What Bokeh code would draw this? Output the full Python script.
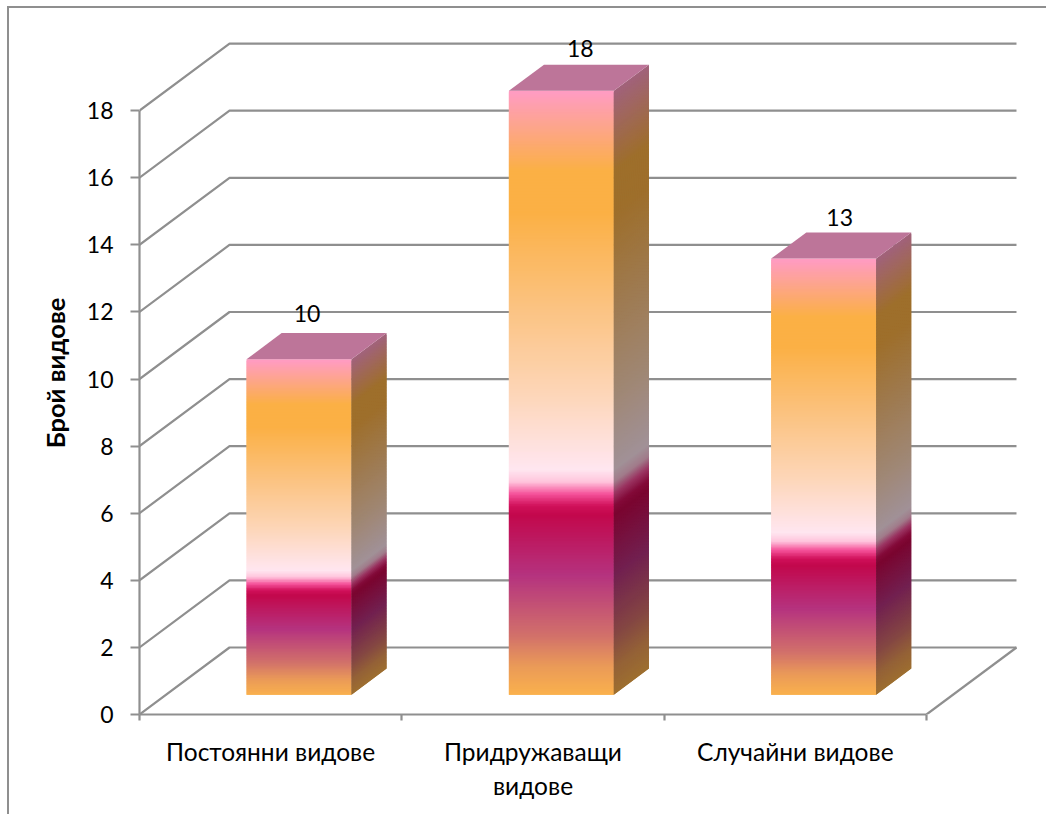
from bokeh.plotting import figure
from bokeh.models import FixedTicker, Range1d, LinearAxis
from bokeh.embed import file_html
from bokeh.resources import INLINE
from bokeh.core.properties import value

# --- data ---
categories = ["Постоянни видове", "Придружаващи\nвидове", "Случайни видове"]
counts = [10, 18, 13]
count_labels = ["10", "18", "13"]
y_ticks = [0, 2, 4, 6, 8, 10, 12, 14, 16, 18]
y_title = "Брой видове"

# --- style / projection ---
FONT = "Lato"
LINE = "#8f8f8f"
W, H = 1046, 814
LEFT, BOTTOM, TOP = 139, 100, 31
PX_X, PX_Y = 262.33, 33.55
DX, DY = 90 / PX_X, 67 / PX_Y
D0X, D0Y, DEPTH = 0.315, 0.295, 0.39
BAR_W = 0.40
TOP_FACE = "#bd7599"
STOPS = [(0.00, "#fbb24c"), (0.05, "#ea9a58"), (0.10, "#d2716a"), (0.20, "#b5337f"), (0.30, "#c2084c"),
         (0.315, "#d0105a"), (0.335, "#f5529a"), (0.355, "#ffc4dc"), (0.375, "#ffe6f0"),
         (0.50, "#fdd6b8"), (0.65, "#fbc27f"), (0.80, "#fbb045"), (0.87, "#fbb045"), (1.00, "#ff9cc2")]


def rgb(h):
    return [int(h[i:i + 2], 16) for i in (1, 3, 5)]


def shade(t, k=1.0):
    for (t0, c0), (t1, c1) in zip(STOPS, STOPS[1:]):
        if t <= t1:
            f = (t - t0) / (t1 - t0)
            a, b = rgb(c0), rgb(c1)
            return "#%02x%02x%02x" % tuple(int(round((a[i] + (b[i] - a[i]) * f) * k)) for i in range(3))
    return STOPS[-1][1]


p = figure(width=W, height=H, output_backend="svg", toolbar_location=None,
           x_axis_location=None, y_axis_location=None,
           x_range=Range1d(0, (W - LEFT) / PX_X),
           y_range=Range1d(0, (H - BOTTOM - TOP) / PX_Y),
           min_border_left=LEFT, min_border_right=0, min_border_top=TOP, min_border_bottom=BOTTOM,
           outline_line_color=None, background_fill_color=None, border_fill_color=None)
# the chart-area border sits outside the frame, so it is painted behind the transparent canvas
p.styles = {"background": f"linear-gradient({LINE},{LINE}) 7px 6px / 100% 2px no-repeat, "
                          f"linear-gradient({LINE},{LINE}) 7px 6px / 2px 100% no-repeat, white"}
p.grid.visible = False

# axes
ya = LinearAxis(ticker=FixedTicker(ticks=y_ticks), bounds=(0, y_ticks[-1]), axis_label=y_title)
ya.axis_line_color = LINE; ya.axis_line_width = 2.2
ya.major_tick_line_color = LINE; ya.major_tick_line_width = 2.2
ya.major_tick_out = 9; ya.major_tick_in = 0
ya.minor_tick_line_color = None
ya.major_label_standoff = 17
ya.major_label_text_font = FONT; ya.major_label_text_font_size = "23px"; ya.major_label_text_color = "black"
ya.axis_label_text_font = FONT; ya.axis_label_text_font_size = "25.5px"
ya.axis_label_text_font_style = "bold"; ya.axis_label_text_color = "black"
ya.axis_label_standoff = 14
p.add_layout(ya, "left")

n_cat = len(categories)
xa = LinearAxis(ticker=FixedTicker(ticks=[i + 0.5 for i in range(n_cat)], minor_ticks=list(range(n_cat + 1))),
                bounds=(0, n_cat))
xa.major_label_overrides = {i + 0.5: c for i, c in enumerate(categories)}
xa.axis_line_color = LINE; xa.axis_line_width = 2.2
xa.major_tick_line_color = None
xa.minor_tick_line_color = LINE; xa.minor_tick_line_width = 2.2
xa.minor_tick_out = 6; xa.minor_tick_in = 0
xa.major_label_standoff = 16
xa.major_label_text_font = FONT; xa.major_label_text_font_size = "24.5px"; xa.major_label_text_color = "black"
p.add_layout(xa, "below")

# walls and floor
xs, ys = [], []
for v in y_ticks:
    xs.append([0, DX, n_cat + DX]); ys.append([v, v + DY, v + DY])
xs.append([n_cat, n_cat + DX]); ys.append([0, DY])
p.multi_line(xs, ys, line_color=LINE, line_width=2.2)

# bars
label_dx = [8 / PX_X, 19 / PX_X, 16 / PX_X]
label_dy = [20 / PX_Y, 16 / PX_Y, 15 / PX_Y]
for i, v in enumerate(counts):
    x0 = i + 0.5 - BAR_W / 2 + D0X * DX
    x1 = x0 + BAR_W
    base = D0Y * DY
    n = int(v * 22)
    b, t, c, sx, sy, sc = [], [], [], [], [], []
    dxs, dys = DEPTH * DX, DEPTH * DY
    for k in range(n):
        lo = base + v * max(k - 1, 0) / n
        hi = base + v * (k + 1) / n
        mid = (k + 0.5) / n
        b.append(lo); t.append(hi); c.append(shade(mid))
        sx.append([x1, x1 + dxs, x1 + dxs, x1]); sy.append([lo, lo + dys, hi + dys, hi]); sc.append(shade(mid, 0.63))
    p.quad(left=x0, right=x1, bottom=b, top=t, fill_color=c, line_color=None)
    p.patches(sx, sy, fill_color=sc, line_color=None)
    top = base + v
    p.patch([x0, x1, x1 + dxs, x0 + dxs], [top, top, top + dys, top + dys], fill_color=TOP_FACE, line_color=None)
    p.text([(x0 + x1) / 2 + label_dx[i]], [top + dys + label_dy[i]], text=[count_labels[i]],
           text_align="center", text_baseline="middle", text_font=value(FONT), text_font_size="23px", text_color="black")

open("out.html", "w").write(file_html(p, INLINE))
